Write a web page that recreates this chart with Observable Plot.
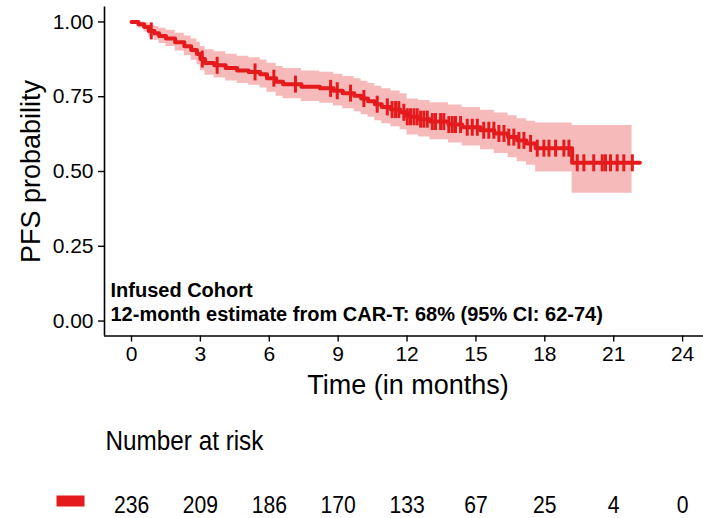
<!DOCTYPE html>
<html>
<head>
<meta charset="utf-8">
<script src="https://cdn.jsdelivr.net/npm/d3@7"></script>
<script src="https://cdn.jsdelivr.net/npm/@observablehq/plot@0.6"></script>
<style>
  html, body { margin: 0; padding: 0; background: #fff; }
  #chart { width: 703px; height: 518px; overflow: hidden; }
</style>
</head>
<body>
<div id="chart"></div>
<script>
// ---- data ----
const xTicks = [0, 3, 6, 9, 12, 15, 18, 21, 24];
const yTicks = [0, 0.25, 0.5, 0.75, 1];
const riskCounts = [236, 209, 186, 170, 133, 67, 25, 4, 0];

const stepTime = [0, 0.3, 0.55, 0.75, 1.0, 1.2, 1.5, 1.9, 2.3, 2.6, 2.85, 3.0, 3.2, 3.6, 4.1, 4.6, 5.1, 5.6, 5.9, 6.3, 6.6, 7.4, 8.2, 8.8, 9.2, 9.7, 10.0, 10.3, 10.6, 10.9, 11.3, 11.7, 12.0, 12.5, 13.0, 13.8, 14.4, 15.2, 15.8, 16.4, 16.8, 17.2, 17.6, 19.19];
const stepSurv = [1, 0.992, 0.983, 0.970, 0.962, 0.953, 0.945, 0.932, 0.919, 0.906, 0.893, 0.876, 0.863, 0.855, 0.846, 0.838, 0.833, 0.825, 0.812, 0.800, 0.792, 0.783, 0.778, 0.770, 0.762, 0.753, 0.744, 0.735, 0.725, 0.716, 0.707, 0.698, 0.683, 0.675, 0.667, 0.657, 0.648, 0.638, 0.627, 0.615, 0.604, 0.594, 0.578, 0.529];
const stepUpper = [1, 1, 0.997, 0.990, 0.985, 0.979, 0.972, 0.962, 0.953, 0.943, 0.932, 0.918, 0.907, 0.900, 0.892, 0.885, 0.880, 0.873, 0.862, 0.851, 0.844, 0.836, 0.832, 0.825, 0.818, 0.810, 0.802, 0.794, 0.785, 0.777, 0.769, 0.760, 0.742, 0.737, 0.730, 0.722, 0.714, 0.705, 0.696, 0.686, 0.676, 0.668, 0.662, 0.654];
const stepLower = [1, 0.980, 0.966, 0.950, 0.939, 0.928, 0.918, 0.903, 0.887, 0.872, 0.857, 0.837, 0.822, 0.813, 0.803, 0.794, 0.788, 0.779, 0.765, 0.752, 0.743, 0.734, 0.728, 0.719, 0.710, 0.700, 0.690, 0.681, 0.670, 0.660, 0.650, 0.640, 0.622, 0.615, 0.606, 0.595, 0.585, 0.573, 0.560, 0.546, 0.533, 0.521, 0.498, 0.427];
const lineEnd = 22.14;
const bandEnd = 21.8;

const censorTimes = [0.86, 3.08, 3.73, 5.38, 6.20, 7.14, 8.67, 8.96, 9.54, 10.12, 10.70,
  11.14, 11.35, 11.50, 11.64, 11.86, 12.01, 12.15, 12.30, 12.44, 12.59, 12.73, 12.88,
  13.10, 13.24, 13.46, 13.60, 13.82, 13.97, 14.11, 14.33, 14.62, 14.84, 15.06,
  15.34, 15.56, 15.78, 16.00, 16.22, 16.43, 16.65, 16.87, 17.09, 17.38, 17.67, 17.96, 18.18,
  18.47, 18.83, 19.05, 19.41, 19.70, 20.13, 20.50, 20.64, 20.86, 21.15, 21.44, 21.81];

const titleLines = ["Infused Cohort", "12-month estimate from CAR-T: 68% (95% CI: 62-74)"];
const xLabel = "Time (in months)";
const yLabel = "PFS probability";
const riskTitle = "Number at risk";

// ---- derived tables ----
const red = "#e41a1c";
const steps = stepTime.map((t, i) => ({t, s: stepSurv[i], hi: stepUpper[i], lo: stepLower[i]}));
const last = steps[steps.length - 1];
const lineData = [...steps, {...last, t: lineEnd}];
const bandData = [...steps, {...last, t: bandEnd}];
function survAt(t) {
  let s = steps[0].s;
  for (const d of steps) { if (d.t <= t) s = d.s; else break; }
  return s;
}
const censors = censorTimes.map(t => ({t, s: survAt(t)}));
const risk = xTicks.map((t, i) => ({t, n: riskCounts[i]}));

const xDomain = [-1.176, 24.91];
const yDomain = [-0.05, 1.05];

const tickSym = {draw(ctx) { ctx.moveTo(0, -8.5); ctx.lineTo(0, 8.5); }};
const swatchSym = {draw(ctx) { ctx.rect(-14, -5.5, 28, 11); }};

const fontMain = "'Liberation Sans', Arial, Helvetica, sans-serif";

const chart = Plot.plot({
  width: 703,
  height: 518,
  marginLeft: 104,
  marginRight: 0,
  marginTop: 6.5,
  marginBottom: 182.5,
  style: {fontFamily: fontMain, color: "black", background: "white", overflow: "visible"},
  x: {domain: xDomain},
  y: {domain: yDomain},
  marks: [
    Plot.areaY(bandData, {x: "t", y1: "lo", y2: "hi", curve: "step-after", fill: red, fillOpacity: 0.3}),
    Plot.line(lineData, {x: "t", y: "s", curve: "step-after", stroke: red, strokeWidth: 4}),
    Plot.dot(censors, {x: "t", y: "s", symbol: tickSym, stroke: red, strokeWidth: 3, fill: "none"}),
    Plot.ruleX([xDomain[0]], {stroke: "black", strokeWidth: 1.6}),
    Plot.ruleY([yDomain[0]], {stroke: "black", strokeWidth: 1.6}),
    Plot.axisY({ticks: yTicks, tickFormat: d => d.toFixed(2), tickSize: 6, tickPadding: 5, fontSize: 21, label: null, strokeWidth: 1.4}),
    Plot.axisX({ticks: xTicks, tickFormat: d => String(d), tickSize: 6, tickPadding: 4, fontSize: 21, label: null, strokeWidth: 1.4}),
    Plot.text([yLabel], {text: d => d, frameAnchor: "left", dx: -73, rotate: -90, fontSize: 27, textAnchor: "middle", lineAnchor: "middle"}),
    Plot.text([xLabel], {text: d => d, frameAnchor: "bottom", dx: 4, dy: 49, fontSize: 27, textAnchor: "middle", lineAnchor: "middle"}),
    Plot.text([titleLines.join("\n")], {text: d => d, frameAnchor: "bottom-left", dx: 6, dy: -15, fontSize: 20, fontWeight: "bold", textAnchor: "start", lineAnchor: "bottom", lineHeight: 1.2}),
    Plot.text([riskTitle], {text: d => d, frameAnchor: "bottom-left", dx: 1, dy: 105, fontSize: 27, textAnchor: "start", lineAnchor: "middle", ariaDescription: "risk-title"}),
    Plot.text(risk, {x: "t", text: "n", frameAnchor: "bottom", dy: 169, fontSize: 24, textAnchor: "middle", lineAnchor: "middle", ariaDescription: "risk-counts"}),
    Plot.dot([{}], {frameAnchor: "bottom-left", dx: -34, dy: 165, symbol: swatchSym, fill: red, stroke: "none"})
  ]
});

// the risk table text in the reference is drawn narrower than it is tall
function squeeze(desc, sx) {
  d3.select(chart).selectAll(`g[aria-description="${desc}"] text`).each(function() {
    const t = this.getAttribute("transform") || "";
    this.setAttribute("transform", `${t} scale(${sx},1)`);
  });
}
squeeze("risk-title", 0.9);
squeeze("risk-counts", 0.88);

document.getElementById("chart").appendChild(chart);
</script>
</body>
</html>
